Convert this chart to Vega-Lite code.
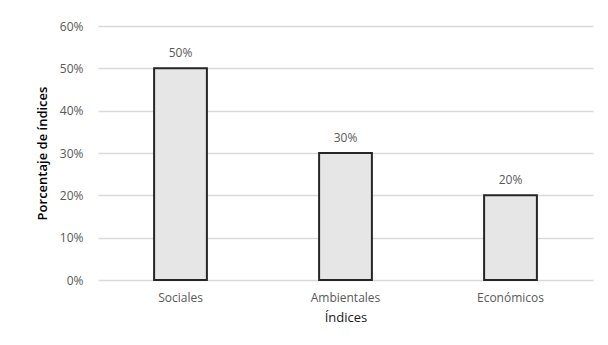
{
  "$schema": "https://vega.github.io/schema/vega-lite/v6.json",
  "width": 495,
  "height": 254,
  "autosize": "none",
  "padding": {"left": 98, "top": 26, "right": 15, "bottom": 65},
  "background": "white",
  "config": {
    "view": {"stroke": null},
    "font": "Open Sans"
  },
  "data": {
    "values": [
      {"indice": "Sociales", "pct": 0.5},
      {"indice": "Ambientales", "pct": 0.3},
      {"indice": "Económicos", "pct": 0.2}
    ]
  },
  "encoding": {
    "x": {
      "field": "indice", "type": "nominal", "sort": null,
      "scale": {"paddingInner": 0.68, "paddingOuter": 0.34},
      "axis": {
        "title": "Índices", "labelAngle": 0, "domain": false, "ticks": false,
        "labelColor": "#595959", "labelFontSize": 12, "labelPadding": 12,
        "titleColor": "#1a1a1a", "titleFontSize": 13, "titleFontWeight": "normal", "titlePadding": 8
      }
    },
    "y": {
      "field": "pct", "type": "quantitative",
      "scale": {"domain": [0, 0.6]},
      "axis": {
        "title": "Porcentaje de índices", "format": ".0%", "values": [0, 0.1, 0.2, 0.3, 0.4, 0.5, 0.6],
        "labelOverlap": false,
        "domain": false, "ticks": false, "gridColor": "#d9d9d9", "gridWidth": 1.5,
        "labelColor": "#595959", "labelFontSize": 12, "labelPadding": 15,
        "titleColor": "#000000", "titleFontSize": 13, "titleFontWeight": 600, "titlePadding": 10
      }
    }
  },
  "layer": [
    {"mark": {"type": "bar", "fill": "#e7e6e6", "stroke": "#262626", "strokeWidth": 2}},
    {
      "mark": {"type": "text", "dy": -8, "baseline": "bottom", "fontSize": 12, "color": "#595959"},
      "encoding": {"text": {"field": "pct", "type": "quantitative", "format": ".0%"}}
    }
  ]
}
